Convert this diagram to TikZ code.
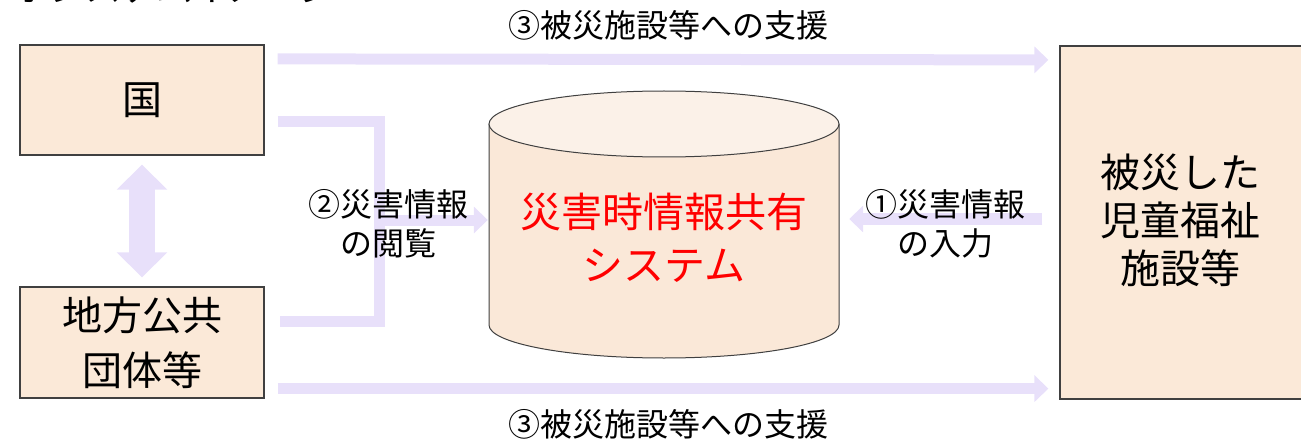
\documentclass[tikz,border=0pt]{standalone}
\usepackage{fontspec}
\setmainfont{Noto Sans CJK JP}
\usetikzlibrary{arrows.meta,calc}
\definecolor{boxfill}{HTML}{FBE9D8}
\definecolor{boxline}{HTML}{404040}
\definecolor{arrcol}{HTML}{E8E0FA}
\definecolor{cyltop}{HTML}{FBF1E8}
\definecolor{cylbody}{HTML}{FAE8D8}
\begin{document}
\begin{tikzpicture}[x=1pt,y=-1pt,
  box/.style={draw=boxline,line width=1.2pt,fill=boxfill,inner sep=0pt,align=center,
    font=\fontsize{40}{55}\selectfont},
  blk/.style={draw=arrcol,line width=11pt,-{Triangle[width=26pt,length=14pt,fill=arrcol]}},
  lbl/.style={inner sep=0pt,align=center,font=\fontsize{32}{39}\selectfont},
  cyltext/.style={inner sep=0pt,align=center,text=red,font=\fontsize{41}{53}\selectfont}]
\useasboundingbox (0,0) rectangle (1301,441);
% title (cut off at top)
\begin{scope}
  \clip (0,0) rectangle (1301,441);
  \node[anchor=base west,inner sep=0pt,font=\fontsize{36}{36}\selectfont] (title) at (13,2) {ホシステムイメージ};
\end{scope}
% boxes
\node[box,minimum width=244pt,minimum height=110pt] (kuni) at (142,100) {国};
\node[box,minimum width=244pt,minimum height=111pt] (chiho) at (142,342.5) {地方公共\\団体等};
\node[box,minimum width=250pt,minimum height=353pt] (hisai) at (1185,222.5) {};
\node[inner sep=0pt,align=center,font=\fontsize{40}{48}\selectfont] (hisaitext) at (1180,220) {被災した\\児童福祉\\施設等};
% cylinder
\node[inner sep=0pt,minimum width=350pt,minimum height=267pt] (sys) at (664,224.5) {};
\fill[cylbody] (489,124) -- (489,325) arc[start angle=180,end angle=360,x radius=175pt,y radius=33pt] -- (839,124) -- cycle;
\draw[boxline,line width=1pt] (489,124) -- (489,325) arc[start angle=180,end angle=360,x radius=175pt,y radius=33pt] -- (839,124);
\draw[boxline,line width=1pt,fill=cyltop] (664,124) ellipse[x radius=175pt,y radius=33pt];
\node[cyltext] (systext) at (664,237.5) {災害時情報共有\\システム};
% arrows
\draw[blk] ($(kuni.north east)+(13,14.5)$) -- ($(hisai.north west)+(-11,14.5)$);
\draw[blk] ($(chiho.south east)+(13,-10)$) -- ($(hisai.south west)+(-11,-11)$);
\draw[draw=arrcol,line width=26pt,{Triangle[width=49pt,length=25pt,fill=arrcol]}-{Triangle[width=49pt,length=25pt,fill=arrcol]}]
  ($(kuni.south)+(0,9)$) -- ($(chiho.north)+(0,-9)$);
\draw[draw=arrcol,line width=11pt,line join=miter] ($(kuni.east)+(13,22)$) -- ++(101.5,0) |- ($(chiho.east)+(15,-21.5)$);
\draw[blk] ($(kuni.east)+(114.5,120)$) -- ($(sys.west)+(-1,-4.5)$);
\draw[blk,line width=12pt] ($(hisai.west)+(-17,-3.5)$) -- ($(sys.east)+(10,-5.5)$);
% labels
\node[lbl] (l3top) at (668,25) {③被災施設等への支援};
\node[lbl] (l3bot) at (668,424) {③被災施設等への支援};
\node[lbl] (l2) at (388,223.5) {②災害情報\\の閲覧};
\node[lbl] (l1) at (945,224) {①災害情報\\の入力};
\end{tikzpicture}
\end{document}
